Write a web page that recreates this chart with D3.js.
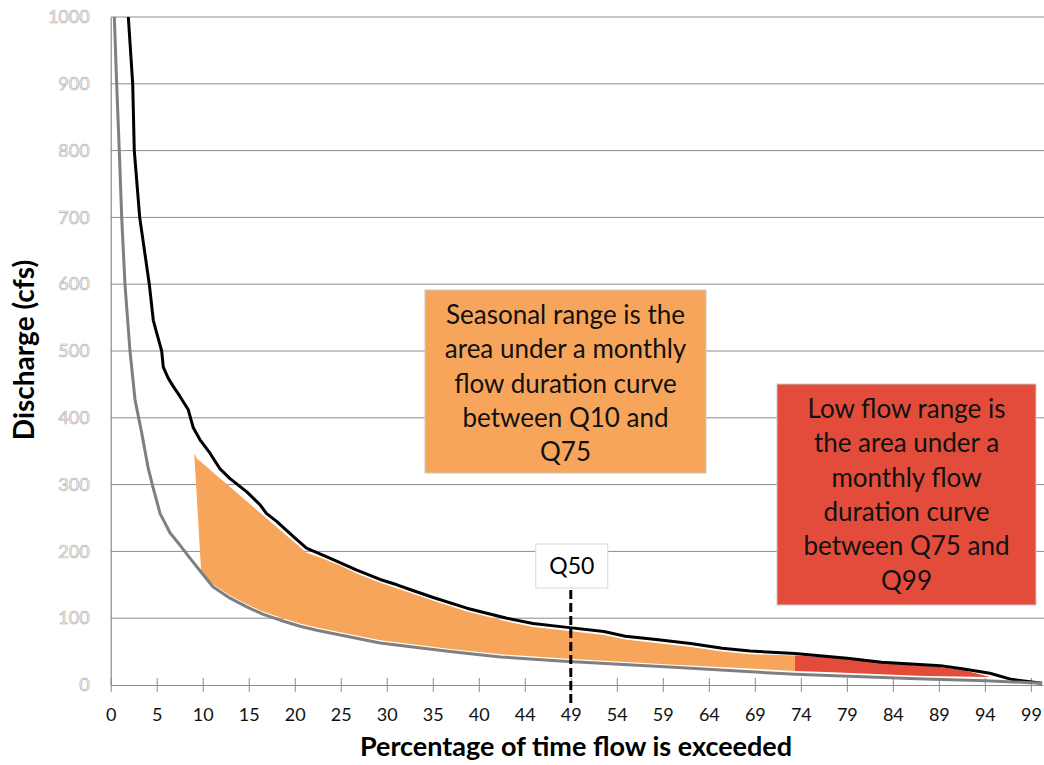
<!DOCTYPE html>
<html>
<head>
<meta charset="utf-8">
<script src="https://cdn.jsdelivr.net/npm/d3@7"></script>
<style>
  html, body { margin: 0; padding: 0; background: #fff; }
  svg { display: block; font-family: Lato, "Open Sans", sans-serif; }
</style>
</head>
<body>
<svg id="chart" width="1044" height="765"></svg>
<script>
// ---------- DATA (percent of time exceeded, discharge cfs) ----------
const xTickLabels = ["0","5","10","15","20","25","30","35","40","44","49","54","59","64","69","74","79","84","89","94","99"];
const yTickValues = [0,100,200,300,400,500,600,700,800,900,1000];

// monthly flow duration curve (black)
const blackPct = [1.89,2.36,2.53,3.11,4.14,4.57,4.93,5.47,5.64,6.18,6.71,7.43,8.32,8.86,9.58,10.65,11.7,12.8,14.6,16.0,16.7,17.8,19.6,21.0,23.5,26.4,28.9,30.7,32.1,34.6,38.2,42.5,45.3,48.5,52.9,55.2,58.5,62.2,65.6,68.6,73.4,79.0,82.7,89.0,91.5,94.3,96.6,99.9];
const blackCfs = [1000,900,800,700,600,546,527,500,476,459,447,432,412,385,367,347,324,309,289,270,257,245,222,205,190,172,158,150,143,131,115,100,92,87,80,73,68,62,55,51,47,40,34,29,24,17.5,8.5,2.5];

// second flow duration curve (gray)
const grayPct = [0.39,0.64,0.92,1.18,1.53,2.07,2.61,3.33,4.0,4.54,5.29,6.36,7.45,8.5,9.58,10.97,12.8,14.6,16.3,18.2,20.3,22.1,25.7,28.9,32.4,36.4,41.8,48.2,60.4,73.4,86.5,93.9,99.9];
const grayCfs = [1000,900,800,700,600,500,427,377,326,296,257,228,209,190,171,147,130,117,106,97,88,82,72,63,57,50,42,36,26.5,16,9.4,6.4,2.5];

// seasonal range shape (Q10 - Q75), outline points
const seasonalPct = [8.96,9.25,21.0,22.45,24.6,26.4,28.9,32.1,34.6,38.2,42.5,45.3,48.5,52.9,55.2,58.5,62.2,65.6,68.6,73.4,
                     73.4,60.4,48.2,41.8,36.4,32.4,28.9,25.7,22.1,20.3,18.2,16.3,14.6,12.8,10.97,9.7];
const seasonalCfs = [347,339,198,191,179,167,153,138,126,110,95,87,82,75,68,63,57,50,46,44,
                     21,30.5,40,46,54,61,67,76,86,92,101,110,121,134,151,170];

// low flow range shape (Q75 - Q99), outline points
const lowPct = [73.4,77.4,82.7,89.0,91.5,93.0,94.3,89.0,86.5,77.4,73.4];
const lowCfs = [44,41,33,27,22,17,12,13,14,19,21];

const q50Pct = 49.35;

// ---------- LAYOUT ----------
const svg = d3.select("#chart");
const W = 1044, H = 765;
const x = d3.scaleLinear().domain([0, 100]).range([110.7, 1043]);
const y = d3.scaleLinear().domain([0, 1000]).range([685, 17]);
const tickStep = 4.935;
const xTickPos = xTickLabels.map((d, i) => i * tickStep);

// gridlines
svg.append("g").selectAll("line")
  .data(yTickValues.filter(d => d > 0))
  .join("line")
  .attr("x1", x(0)).attr("x2", W)
  .attr("y1", d => y(d)).attr("y2", d => y(d))
  .attr("stroke", "#8c8c8c").attr("stroke-width", 1);

// y axis
const yAxis = svg.append("g").attr("transform", `translate(${x(0)},0)`)
  .call(d3.axisLeft(y).tickValues(yTickValues).tickSize(0).tickPadding(21).tickFormat(d3.format("d")));
yAxis.select(".domain").attr("stroke", "#8c8c8c").attr("stroke-width", 1.2);
yAxis.selectAll("text")
  .attr("font-family", "Lato, sans-serif").attr("font-size", 18)
  .attr("fill", "#fafafa").attr("stroke", "#b4b4b4").attr("stroke-width", 0.7);

// x axis
const xAxis = svg.append("g").attr("transform", `translate(0,${y(0)})`)
  .call(d3.axisBottom(x).tickValues(xTickPos).tickSizeInner(7).tickSizeOuter(0)
        .tickFormat((d, i) => xTickLabels[i]));
xAxis.select(".domain").attr("stroke", "#8c8c8c").attr("stroke-width", 1.2);
xAxis.selectAll(".tick line").attr("y1", -7).attr("y2", 7).attr("stroke", "#8c8c8c");
xAxis.selectAll("text")
  .attr("y", 23).attr("font-family", "Lato, sans-serif").attr("font-size", 18).attr("fill", "#111");

// filled ranges
const poly = d3.line().x(d => x(d[0])).y(d => y(d[1]));
svg.append("path")
  .datum(seasonalPct.map((p, i) => [p, seasonalCfs[i]]))
  .attr("d", d => poly(d) + "Z")
  .attr("fill", "#f7a55b");
svg.append("path")
  .datum(lowPct.map((p, i) => [p, lowCfs[i]]))
  .attr("d", d => poly(d) + "Z")
  .attr("fill", "#e34c3b");

// curves
const line = d3.line().x(d => x(d[0])).y(d => y(d[1]));
svg.append("path")
  .datum(blackPct.map((p, i) => [p, blackCfs[i]]))
  .attr("d", line).attr("fill", "none")
  .attr("stroke", "#000").attr("stroke-width", 3).attr("stroke-linejoin", "round");
svg.append("path")
  .datum(grayPct.map((p, i) => [p, grayCfs[i]]))
  .attr("d", line).attr("fill", "none")
  .attr("stroke", "#7f7f7f").attr("stroke-width", 3).attr("stroke-linejoin", "round");

// Q50 marker
svg.append("line")
  .attr("x1", x(q50Pct)).attr("x2", x(q50Pct))
  .attr("y1", 590).attr("y2", 704)
  .attr("stroke", "#000").attr("stroke-width", 3).attr("stroke-dasharray", "9,4");
svg.append("rect")
  .attr("x", x(q50Pct) - 35).attr("y", 544).attr("width", 72).attr("height", 44)
  .attr("fill", "#fff").attr("stroke", "#d8d8d8").attr("stroke-width", 1);
svg.append("text")
  .attr("x", x(q50Pct) + 1).attr("y", 574)
  .attr("text-anchor", "middle").attr("font-size", 23).attr("fill", "#000")
  .text("Q50");

// annotation boxes
function box(x0, y0, w, h, fill, lines, baseline0, lh) {
  svg.append("rect").attr("x", x0).attr("y", y0).attr("width", w).attr("height", h)
    .attr("fill", fill).attr("stroke", "#c8c8c8").attr("stroke-width", 1);
  const t = svg.append("text").attr("text-anchor", "middle").attr("font-size", 26).attr("fill", "#111");
  lines.forEach((s, i) => {
    t.append("tspan").attr("x", x0 + w / 2).attr("y", baseline0 + i * lh).text(s);
  });
}
box(425, 290, 281, 183, "#f7a55b",
    ["Seasonal range is the", "area under a monthly", "flow duration curve", "between Q10 and", "Q75"],
    324, 34.3);
box(777, 384, 259, 221, "#e34c3b",
    ["Low flow range is", "the area under a", "monthly flow", "duration curve", "between Q75 and", "Q99"],
    418, 34.3);

// axis titles
svg.append("text")
  .attr("transform", "translate(34,350) rotate(-90)")
  .attr("text-anchor", "middle").attr("font-size", 28).attr("font-weight", "bold").attr("fill", "#000")
  .text("Discharge (cfs)");
svg.append("text")
  .attr("x", 576).attr("y", 756)
  .attr("text-anchor", "middle").attr("font-size", 27).attr("font-weight", "bold").attr("fill", "#000")
  .text("Percentage of time flow is exceeded");
</script>
</body>
</html>
